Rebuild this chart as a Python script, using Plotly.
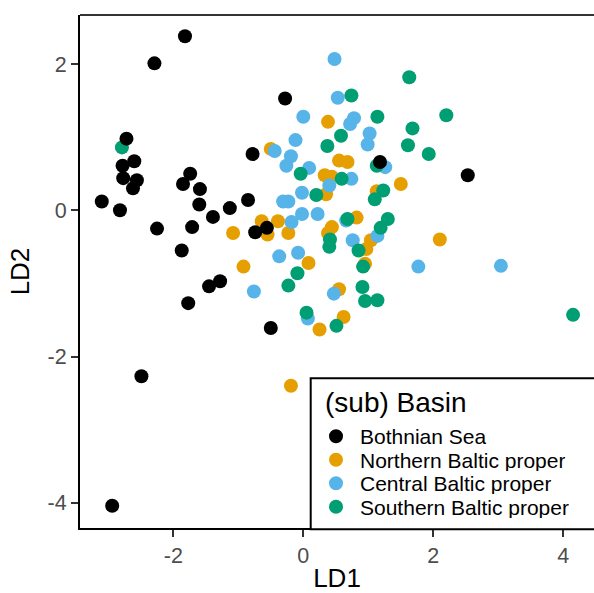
import plotly.graph_objects as go

# ---------------- data ----------------
groups = ["Bothnian Sea", "Northern Baltic proper", "Central Baltic proper", "Southern Baltic proper"]
colors = ["#000000", "#E69F00", "#56B4E9", "#009E73"]

bothnian_ld1 = [-1.82, -2.29, -0.28, -2.72, -0.78, -2.60, -2.78, -2.77, -2.56, -2.62, -1.74,
                -1.85, -1.59, -3.10, -2.82, -1.60, -1.39, -1.13, -0.85, -2.25, -1.71, -0.74,
                -0.56, -1.87, -1.28, -1.45, -1.77, -2.49, -2.94, -0.50, 1.18, 2.53]
bothnian_ld2 = [2.38, 2.01, 1.53, 0.98, 0.77, 0.67, 0.61, 0.44, 0.41, 0.30, 0.50,
                0.36, 0.29, 0.12, 0.00, 0.08, -0.09, 0.03, 0.14, -0.25, -0.23, -0.30,
                -0.24, -0.55, -0.97, -1.04, -1.27, -2.27, -4.04, -1.61, 0.66, 0.48]

northern_ld1 = [-0.50, 0.38, 0.55, 0.68, 0.33, 0.44, 0.35, 1.50, 1.13, 2.10, -0.64, -0.39,
                -0.55, -0.23, -1.08, -0.92, 0.44, 0.38, 0.82, 0.97, 1.04, 0.95, 0.08, 0.55,
                0.62, 0.25, -0.19]
northern_ld2 = [0.84, 1.21, 0.68, 0.66, 0.48, 0.46, 0.22, 0.36, 0.26, -0.40, -0.15, -0.15,
                -0.33, -0.31, -0.31, -0.77, -0.23, -0.31, -0.10, -0.53, -0.41, -0.73, -0.72, -1.08,
                -1.46, -1.63, -2.40]

central_ld1 = [0.48, 0.53, 0.00, 0.78, 0.72, 1.02, 0.99, -0.12, -0.44, -0.19, -0.26, 0.09,
               0.74, 0.40, -0.02, -0.31, -0.23, 1.26, 1.77, 3.04, -0.02, 0.22, -0.18, 0.66,
               0.76, 1.14, -0.37, -0.08, -0.76, 0.47, 0.07]
central_ld2 = [2.07, 1.54, 1.28, 1.26, 1.18, 1.05, 0.90, 0.96, 0.81, 0.74, 0.61, 0.58,
               0.43, 0.34, 0.24, 0.12, 0.12, 0.59, -0.77, -0.76, -0.05, -0.05, -0.16, -0.14,
               -0.41, -0.35, -0.63, -0.58, -1.11, -1.14, -1.48]

southern_ld1 = [-2.79, 1.63, 0.74, 1.14, 1.68, 0.58, 0.37, 1.61, -0.04, 0.59, 0.20, 1.13,
                1.23, 1.10, 2.20, 1.93, 4.15, 0.41, 0.40, 0.68, 0.85, 1.19, 1.30, 0.92,
                -0.09, -0.23, 0.91, 0.95, 1.14, 0.05, 0.51]
southern_ld2 = [0.86, 1.82, 1.57, 1.28, 1.12, 1.02, 0.88, 0.89, 0.50, 0.43, 0.21, 0.61,
                0.27, 0.15, 1.30, 0.77, -1.43, -0.40, -0.50, -0.12, -0.55, -0.24, -0.12, -0.77,
                -0.86, -1.03, -1.05, -1.24, -1.23, -1.40, -1.58]

xs = [bothnian_ld1, northern_ld1, central_ld1, southern_ld1]
ys = [bothnian_ld2, northern_ld2, central_ld2, southern_ld2]

x_ticks = [-2, 0, 2, 4]
y_ticks = [-4, -2, 0, 2]
x_tick_labels = ["-2", "0", "2", "4"]
y_tick_labels = ["-4", "-2", "0", "2"]
legend_title = "(sub) Basin"
x_title = "LD1"
y_title = "LD2"

# ---------------- layout constants ----------------
W, H = 594, 593
ML, MR, MT, MB = 80, 0, 15, 65
PW, PH = W - ML - MR, H - MT - MB
FONT = "Liberation Sans, Arial, sans-serif"


def xp(px):
    return (px - ML) / PW


def yp(py):
    return (H - MB - py) / PH


fig = go.Figure()

# draw order: orange, blue, green, black
for i in [1, 2, 3, 0]:
    fig.add_trace(go.Scatter(
        x=xs[i], y=ys[i], mode="markers", name=groups[i],
        marker=dict(color=colors[i], size=14, line=dict(width=0)),
        showlegend=False,
    ))

shapes = []
annotations = []

# legend box
shapes.append(dict(type="rect", xref="paper", yref="paper",
                   x0=xp(310.7), x1=1.08, y0=yp(529.3), y1=yp(378.3),
                   line=dict(color="#000000", width=2), fillcolor="white", layer="above"))
annotations.append(dict(text=legend_title, xref="paper", yref="paper",
                        x=xp(323), y=yp(402), xanchor="left", yanchor="middle",
                        showarrow=False, font=dict(family=FONT, size=28, color="#000000")))
key_y = [436.2, 459.7, 483.2, 506.7]
for g, c, ky in zip(groups, colors, key_y):
    shapes.append(dict(type="circle", xref="paper", yref="paper",
                       xsizemode="pixel", ysizemode="pixel",
                       xanchor=xp(336), yanchor=yp(ky),
                       x0=-7, x1=7, y0=-7, y1=7,
                       line=dict(width=0), fillcolor=c, layer="above"))
    annotations.append(dict(text=g, xref="paper", yref="paper",
                            x=xp(359), y=yp(ky), xanchor="left", yanchor="middle",
                            height=22, valign="middle", borderpad=0,
                            showarrow=False, font=dict(family=FONT, size=21, color="#000000")))

axis_common = dict(
    showgrid=False, zeroline=False, showline=True, linecolor="#000000", linewidth=2,
    ticks="outside", ticklen=7, tickwidth=2, tickcolor="#333333",
    tickfont=dict(family=FONT, size=21.5, color="#4D4D4D"),
)

fig.update_layout(
    width=W, height=H,
    margin=dict(l=ML, r=MR, t=MT, b=MB, autoexpand=False),
    paper_bgcolor="white", plot_bgcolor="white",
    font=dict(family=FONT),
    xaxis=dict(range=[-3.435, 4.472], tickvals=x_ticks, ticktext=x_tick_labels,
               mirror=False, automargin=False,
               title=dict(text=x_title, font=dict(family=FONT, size=26, color="#000000"), standoff=8),
               **axis_common),
    yaxis=dict(range=[-4.345, 2.671], tickvals=y_ticks, ticktext=y_tick_labels,
               automargin=False,
               title=dict(text=y_title, font=dict(family=FONT, size=26, color="#000000"), standoff=10),
               **axis_common),
    shapes=shapes + [dict(type="line", xref="paper", yref="paper", x0=0, x1=1, y0=1, y1=1,
                          line=dict(color="#333333", width=2))],
    annotations=annotations,
)

fig.write_html("out.html")
